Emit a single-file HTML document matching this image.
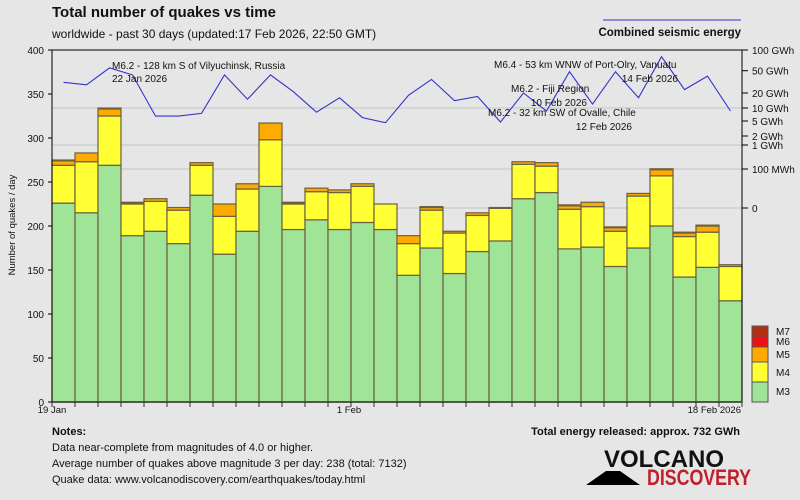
<!DOCTYPE html>
<html><head><meta charset="utf-8"><style>
body{margin:0;background:#e6e6e6;font-family:"Liberation Sans",sans-serif}
svg{display:block}
text{font-family:"Liberation Sans",sans-serif;fill:#111}
</style></head><body>
<svg id="c" width="800" height="500" viewBox="0 0 800 500">
<rect width="800" height="500" fill="#e6e6e6"/>
<text x="52" y="17" font-size="15" font-weight="bold">Total number of quakes vs time</text>
<text x="52" y="38" font-size="12">worldwide - past 30 days (updated:17 Feb 2026, 22:50 GMT)</text>
<line x1="603" y1="20" x2="741" y2="20" stroke="#3333cc" stroke-width="1"/>
<text x="741" y="36" font-size="11.5" font-weight="bold" text-anchor="end">Combined seismic energy</text>
<g id="grid"></g><g id="bars"></g><g id="axes"></g><g id="line"></g>
<g font-size="10">
<text x="112" y="69" font-size="10">M6.2 - 128 km S of Vilyuchinsk, Russia</text>
<text x="112" y="82" font-size="10">22 Jan 2026</text>
<text x="494" y="68" font-size="10">M6.4 - 53 km WNW of Port-Olry, Vanuatu</text>
<text x="678" y="82" font-size="10" text-anchor="end">14 Feb 2026</text>
<text x="511" y="92" font-size="10">M6.2 - Fiji Region</text>
<text x="587" y="106" font-size="10" text-anchor="end">10 Feb 2026</text>
<text x="488" y="116" font-size="10">M6.2 - 32 km SW of Ovalle, Chile</text>
<text x="632" y="130" font-size="10" text-anchor="end">12 Feb 2026</text>
</g>
<g>
<rect x="752" y="326" width="16" height="10" fill="#b03010" stroke="#555"/>
<rect x="752" y="336" width="16" height="11" fill="#ee1111" stroke="#555"/>
<rect x="752" y="347" width="16" height="15" fill="#ffaa00" stroke="#555"/>
<rect x="752" y="362" width="16" height="20" fill="#ffff33" stroke="#555"/>
<rect x="752" y="382" width="16" height="20" fill="#a0e498" stroke="#555"/>
<text x="776" y="335" font-size="10">M7</text>
<text x="776" y="345" font-size="10">M6</text>
<text x="776" y="358" font-size="10">M5</text>
<text x="776" y="376" font-size="10">M4</text>
<text x="776" y="395" font-size="10">M3</text>
</g>
<text x="52" y="413" font-size="9.5" text-anchor="middle">19 Jan</text>
<text x="349" y="413" font-size="9.5" text-anchor="middle">1 Feb</text>
<text x="741" y="413" font-size="9.5" text-anchor="end">18 Feb 2026</text>
<text transform="translate(15,225) rotate(-90)" font-size="9.5" text-anchor="middle">Number of quakes / day</text>
<text x="52" y="435" font-size="11" font-weight="bold">Notes:</text>
<text x="52" y="451" font-size="11">Data near-complete from magnitudes of 4.0 or higher.</text>
<text x="52" y="467" font-size="11">Average number of quakes above magnitude 3 per day: 238 (total: 7132)</text>
<text x="52" y="483" font-size="11">Quake data: www.volcanodiscovery.com/earthquakes/today.html</text>
<text x="740" y="435" font-size="11" font-weight="bold" text-anchor="end">Total energy released: approx. 732 GWh</text>
<g>
<polygon points="586,485 606,471 620,471 640,485" fill="#000"/>
<text x="604" y="467" font-size="24" font-weight="bold" textLength="120" lengthAdjust="spacingAndGlyphs">VOLCANO</text>
<text x="647" y="485" font-size="22" font-weight="bold" fill="#c0202a" style="fill:#c0202a" textLength="104" lengthAdjust="spacingAndGlyphs">DISCOVERY</text>
</g>
</svg>
<script>
const days = Array.from({length:30},(_,i)=>i);
const m3 = [226,215,269,189,194,180,235,168,194,245,196,207,196,204,196,144,175,146,171,183,231,238,174,176,154,175,200,142,153,115];
const m4 = [43,58,56,36,34,38,34,43,48,53,29,32,42,41,29,36,43,46,41,37,39,30,45,46,40,59,57,46,40,39];
const m5 = [5,10,8,1,3,3,3,14,6,19,1,4,3,3,0,9,3,2,3,1,3,4,4,5,4,3,7,4,7,2];
const m6 = [1,0,1,1,0,0,0,0,0,0,1,0,0,0,0,0,1,0,0,0,0,0,1,0,1,0,1,1,1,0];
const m7 = [0,0,0,0,0,0,0,0,0,0,0,0,0,0,0,0,0,0,0,0,0,0,0,0,0,0,0,0,0,0];
const energyGWh = [31,28,55,42,6.5,6.5,7.5,42,15,42,21,8,16,6,4.5,18,35,14,17,4.7,20,8.5,48,12,48,16,80,23,40,8.5];
const leftTicks = [0,50,100,150,200,250,300,350,400];
const rightTickVals = [0,0.1,1,2,5,10,20,50,100];
const rightTickLabels = ["0","100 MWh","1 GWh","2 GWh","5 GWh","10 GWh","20 GWh","50 GWh","100 GWh"];
const rightTickPx = [208,169,145,136,121,108,93,70.7,50];
const X0=52,X1=742,Y0=402,Y1=50,N=30,BW=(X1-X0)/N;
const ns="http://www.w3.org/2000/svg";
function yS(v){return Y0-v*(Y0-Y1)/400;}
function xS(i){return X0+i*BW;}
function yE(e){
  if(e<=0)return rightTickPx[0];
  for(let k=1;k<rightTickVals.length-1;k++){
    const a=rightTickVals[k],b=rightTickVals[k+1];
    if(e<=b){const f=Math.log(e/a)/Math.log(b/a);return rightTickPx[k]+f*(rightTickPx[k+1]-rightTickPx[k]);}
  }
  return rightTickPx[rightTickPx.length-1];
}
function mk(tag,attrs,parent){const el=document.createElementNS(ns,tag);for(const k in attrs)el.setAttribute(k,attrs[k]);parent.appendChild(el);return el;}
const grid=document.getElementById('grid'),bars=document.getElementById('bars'),axes=document.getElementById('axes'),line=document.getElementById('line');
[0,1,2,5].forEach(k=>{const y=rightTickPx[k];
  const g=mk('line',{x1:X0,x2:X1,y1:y,y2:y,stroke:'#cfcfcf','stroke-width':1.5},grid);
  
  });
const layers=[[m3,'#a0e498'],[m4,'#ffff33'],[m5,'#ffaa00'],[m6,'#ee1111'],[m7,'#b03010']];
days.forEach(i=>{let base=0;
  layers.forEach(([arr,col],li)=>{const v=arr[i];if(v<=0)return;
    const r=mk('rect',{x:xS(i),y:yS(base+v),width:BW,height:yS(base)-yS(base+v),fill:col,stroke:'#6b6040','stroke-width':1.2},bars);
    
    
    base+=v;});
});
let a=mk('line',{x1:X0,x2:X0,y1:Y1,y2:Y0,stroke:'#000'},axes);

a=mk('line',{x1:X1,x2:X1,y1:Y1,y2:Y0,stroke:'#000'},axes);

a=mk('line',{x1:X0,x2:X1,y1:Y1,y2:Y1,stroke:'#000'},axes);

a=mk('line',{x1:X0,x2:X1,y1:Y0,y2:Y0,stroke:'#333','stroke-width':1.5},axes);

for(let i=0;i<=N;i++){const t=mk('line',{x1:xS(i),x2:xS(i),y1:Y0,y2:Y0+5,stroke:'#333'},axes);
  }
leftTicks.forEach(v=>{const y=yS(v);
  const t=mk('line',{x1:X0-4,x2:X0,y1:y,y2:y,stroke:'#000'},axes);
  
  const l=mk('text',{x:X0-8,y:y+4,'font-size':10,'text-anchor':'end'},axes);l.textContent=v;
  });
rightTickVals.forEach((v,k)=>{const y=rightTickPx[k];
  const t=mk('line',{x1:X1,x2:X1+6,y1:y,y2:y,stroke:'#000'},axes);
  
  const l=mk('text',{x:X1+10,y:y+4,'font-size':10},axes);l.textContent=rightTickLabels[k];
  });
const pts=days.map(i=>(xS(i)+BW/2).toFixed(1)+','+yE(energyGWh[i]).toFixed(1)).join(' ');
const pl=mk('polyline',{points:pts,fill:'none',stroke:'#3333cc','stroke-width':1.1},line);


</script>
</body></html>
